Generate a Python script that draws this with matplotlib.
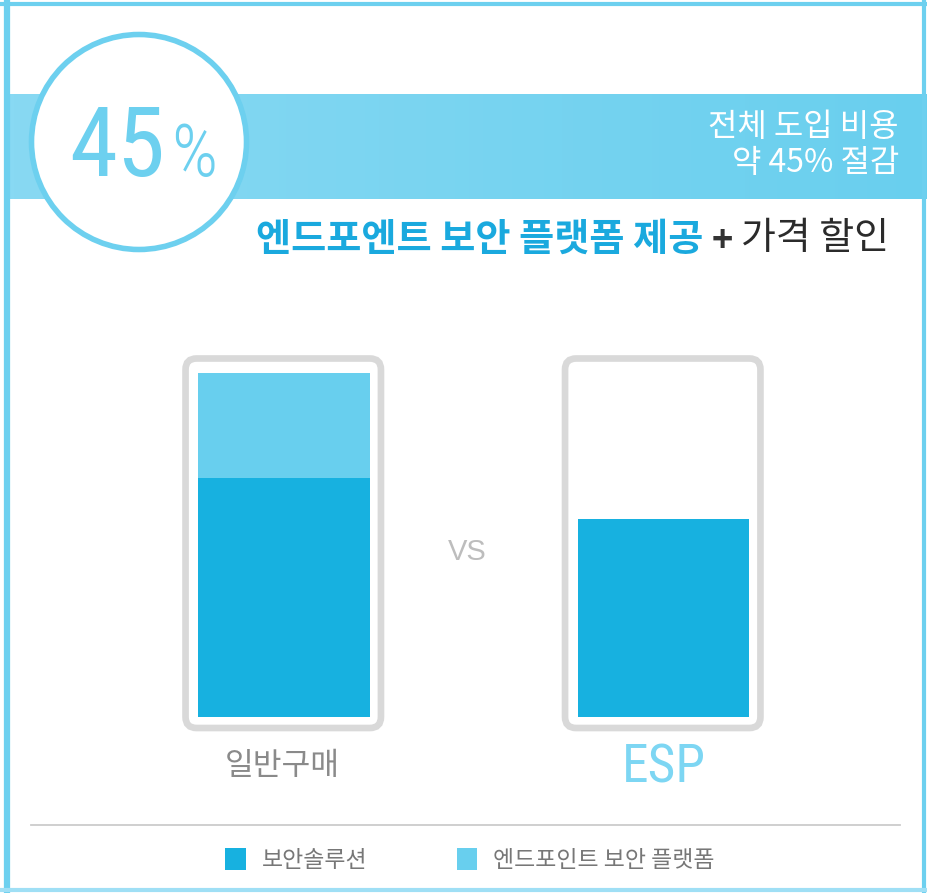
import numpy as np
import matplotlib
matplotlib.use("Agg")
import matplotlib.pyplot as plt
from matplotlib.patches import Circle, FancyBboxPatch
from matplotlib.colors import LinearSegmentedColormap
from matplotlib.transforms import ScaledTranslation
from matplotlib import font_manager

plt.rcParams['font.family'] = ['Noto Sans CJK KR', 'DejaVu Sans']

# data
categories = ['일반구매', 'ESP']
security = [69.5, 57.5]      # 보안솔루션
endpoint = [30.5, 0.0]       # 엔드포인트 보안 플랫폼
series_names = ['보안솔루션', '엔드포인트 보안 플랫폼']
saving_pct = '45'
banner_lines = ['전체 도입 비용', '약 45% 절감']
title_blue = '엔드포엔트 보안 플랫폼 제공'
title_dark = '가격 할인'

DARK = '#17b1e0'
LIGHT = '#68cfee'
FRAME = '#6dd0ef'
W, H = 928, 893

# condensed face for the numbers, if the system has one
NARROW = ['DejaVu Sans']
names = {f.name for f in font_manager.fontManager.ttflist}
for cand in ['Liberation Sans Narrow', 'DejaVu Sans Condensed', 'Roboto Condensed']:
    if cand in names:
        NARROW = [cand, 'DejaVu Sans']
        break

fig = plt.figure(figsize=(W / 100, H / 100), dpi=100)

# pixel overlay for the decorations
ov = fig.add_axes([0, 0, 1, 1], zorder=0)
ov.set_axis_off()

# banner with a soft gradient
cmap = LinearSegmentedColormap.from_list('banner', ['#88d9f3', '#69cfee'])
ov.imshow(np.linspace(0, 1, 256)[None, :], extent=[10, W, 199, 94],
          cmap=cmap, aspect='auto', zorder=1)
ov.set_xlim(0, W)
ov.set_ylim(H, 0)

# outer frame
ov.plot([7, 7], [0, H], color=FRAME, lw=4.5, solid_capstyle='butt', zorder=2)
ov.plot([0, W], [3.5, 3.5], color=FRAME, lw=3, solid_capstyle='butt', zorder=2)
ov.plot([924, 924], [0, H], color=FRAME, lw=3, solid_capstyle='butt', zorder=2)
ov.plot([0, W], [890, 890], color='#9fdff5', lw=3, solid_capstyle='butt', zorder=2)

# circle badge
ov.add_patch(Circle((139, 142), 107.5, facecolor='white', edgecolor=FRAME,
                    lw=4, zorder=3))
ov.text(165, 176, saving_pct, ha='right', va='baseline', fontsize=70,
        color=FRAME, family=NARROW, fontstretch='condensed',
        fontweight='normal', zorder=4)
ov.text(171, 176, '%', ha='left', va='baseline', fontsize=52,
        color=FRAME, family=NARROW, fontstretch='condensed',
        fontweight='light', zorder=4)

# banner text
ov.text(899, 127, banner_lines[0], ha='right', va='center', fontsize=23,
        color='white', zorder=4)
ov.text(899, 163, banner_lines[1], ha='right', va='center', fontsize=23,
        color='white', zorder=4)

# headline
ov.text(703, 239, title_blue, ha='right', va='center', fontsize=27.5,
        color='#1aa9de', fontweight='bold', zorder=4)
ov.text(722, 242, '+', ha='center', va='center', fontsize=26,
        color='#333333', fontweight='bold', zorder=4)
ov.text(741, 239, title_dark, ha='left', va='center', fontsize=27.3,
        color='#2b2b2b', zorder=4)

# separator above legend
ov.plot([31, 900], [825, 825], color='#cccccc', lw=1.3, zorder=2)

# bars
ax = fig.add_axes([150 / W, 1 - 717 / H, 650 / W, 344 / H], zorder=1)
ax.set_facecolor('none')
x = np.arange(len(categories))
width = 0.453
b1 = ax.bar(x, security, width, color=DARK, label=series_names[0], zorder=3)
b2 = ax.bar(x, endpoint, width, bottom=security, color=LIGHT,
            label=series_names[1], zorder=3)
ax.set_xlim(-0.3531, 1.3597)
ax.set_ylim(0, 100)
ax.set_yticks([])
for s in ax.spines.values():
    s.set_visible(False)
ax.set_xticks(x, categories)
ax.tick_params(axis='x', length=0, pad=18.5)
lbls = ax.get_xticklabels()
lbls[0].set_fontsize(22.5)
lbls[0].set_color('#8a8a8a')
lbls[0].set_transform(lbls[0].get_transform() +
                      ScaledTranslation(-0.02, -0.07, fig.dpi_scale_trans))
lbls[1].set_fontsize(38.5)
lbls[1].set_color('#7dd6f3')
lbls[1].set_family(NARROW)
lbls[1].set_fontstretch('condensed')

# rounded containers around each bar
for xi in x:
    (x0, y0) = ax.transData.transform((xi - width / 2, 0))
    (x1, y1) = ax.transData.transform((xi + width / 2, 100))
    px0, px1 = x0 - 12.5, x1 + 11
    py_top, py_bot = H - y1 - 14.5, H - y0 + 11
    ov.add_patch(FancyBboxPatch((px0, py_top), px1 - px0, py_bot - py_top,
                                boxstyle='round,pad=0,rounding_size=11',
                                facecolor='white', edgecolor='#d9d9d9',
                                lw=4.8, zorder=2))

ov.text(467, 552, 'VS', ha='center', va='center', fontsize=21,
        color='#bdbdbd', family=['Liberation Sans', 'DejaVu Sans'], zorder=4)

fig.legend(handles=[b1, b2], loc='center', bbox_to_anchor=(470 / W, 1 - 860 / H),
           ncol=2, frameon=False, fontsize=16.5, labelcolor='#777777',
           handlelength=0.9, handleheight=1.05, handletextpad=0.7,
           columnspacing=3.9)

fig.savefig('out.png', dpi=100, facecolor='white')
